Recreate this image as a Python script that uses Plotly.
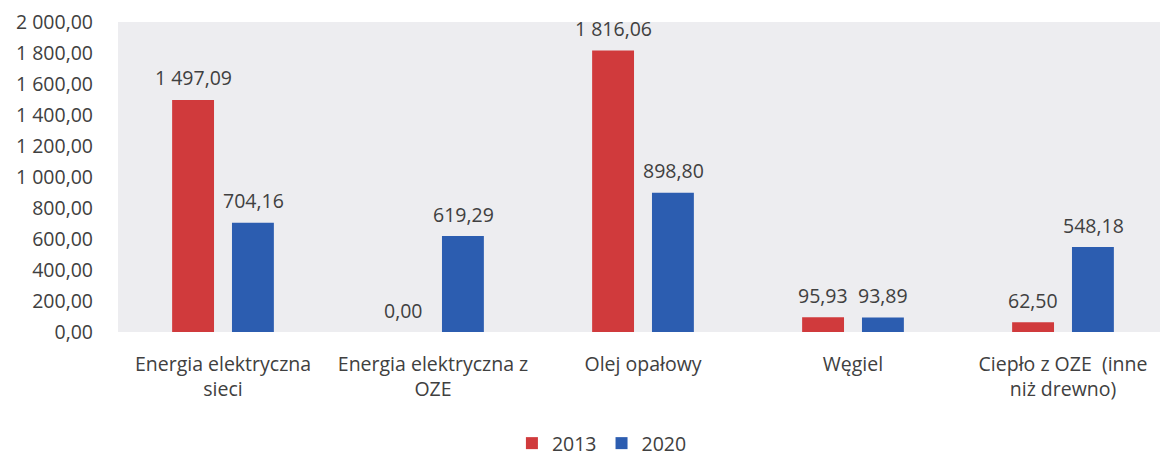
import plotly.graph_objects as go

# categories and values
categories = [
    "Energia elektryczna<br>sieci",
    "Energia elektryczna z<br>OZE",
    "Olej opałowy",
    "Węgiel",
    "Ciepło z OZE\u00a0 (inne<br>niż drewno)",
]
years = ["2013", "2020"]
values_2013 = [1497.09, 0.00, 1816.06, 95.93, 62.50]
values_2020 = [704.16, 619.29, 898.80, 93.89, 548.18]
y_ticks = [0, 200, 400, 600, 800, 1000, 1200, 1400, 1600, 1800, 2000]

colors = {"2013": "#D03A3C", "2020": "#2C5DB0"}
font_family = "'Open Sans', sans-serif"
text_color = "#404040"
fsize = 19.5

fig = go.Figure()
for year, vals in zip(years, [values_2013, values_2020]):
    fig.add_trace(go.Bar(
        x=categories,
        y=vals,
        name=year,
        marker_color=colors[year],
        marker_line_width=0,
    ))

# value labels above each bar
for i, (year, vals) in enumerate(zip(years, [values_2013, values_2020])):
    shift = -30 if i == 0 else 30
    for cat, v in zip(categories, vals):
        label = f"{v:,.2f}".replace(",", " ").replace(".", ",")
        fig.add_annotation(
            x=cat, y=v, text=label, showarrow=False,
            xshift=shift, yshift=22,
            font=dict(family=font_family, size=fsize, color=text_color),
        )

# page body has an 8px margin, so the figure is sized to fit the window
fig.update_layout(
    width=1160,
    height=448,
    barmode="group",
    bargap=0.43,
    bargroupgap=0.3,
    separators=", ",
    paper_bgcolor="white",
    plot_bgcolor="#EDEDF0",
    font=dict(family=font_family, size=fsize, color=text_color),
    margin=dict(l=110, r=0, t=14, b=124),
    showlegend=True,
    legend=dict(
        orientation="h",
        xref="container", yref="container",
        x=0.512, xanchor="center",
        y=0.028, yanchor="middle",
        font=dict(size=fsize, color=text_color),
        itemwidth=30,
    ),
    xaxis=dict(
        showgrid=False,
        showline=False,
        ticklabelstandoff=18,
        tickfont=dict(size=fsize),
    ),
    yaxis=dict(
        range=[0, 2000],
        tickmode="array",
        tickvals=y_ticks,
        tickformat=",.2f",
        ticklabeloverflow="allow",
        showgrid=False,
        zeroline=False,
        showline=False,
        ticklabelstandoff=24,
        tickfont=dict(size=fsize),
    ),
)

fig.write_html("out.html")
